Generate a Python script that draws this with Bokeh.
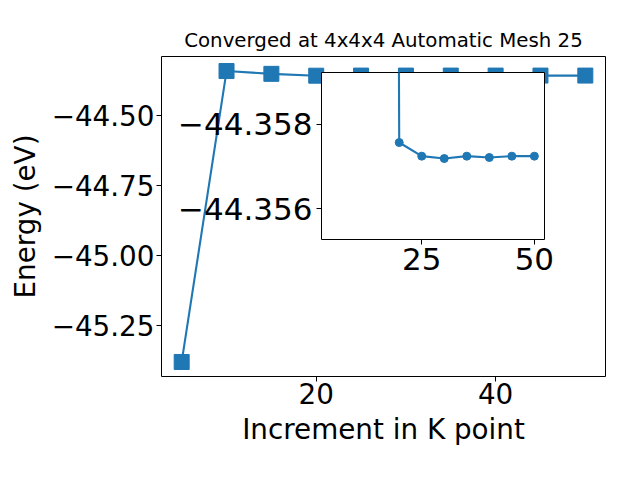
from bokeh.plotting import figure
from bokeh.models import Range1d, FixedTicker, CustomJSTickFormatter, ColumnDataSource
from bokeh.embed import file_html
from bokeh.resources import INLINE

# ---------------- data ----------------
k_points = [5, 10, 15, 20, 25, 30, 35, 40, 45, 50]
energy = [-45.380, -44.341, -44.351, -44.3576, -44.3572, -44.3572,
          -44.3572, -44.3572, -44.3572, -44.3572]

# zoomed inset series (first point lies far outside the inset window)
inset_k = [15, 20, 25, 30, 35, 40, 45, 50]
inset_energy = [-44.500, -44.357571, -44.357246, -44.357190, -44.357246,
                -44.357214, -44.357246, -44.357246]

title_text = "Converged at 4x4x4 Automatic Mesh 25"
x_label = "Increment in K point"
y_label = "Energy (eV)"

main_xticks = [20, 40]
main_yticks = [-45.25, -45.00, -44.75, -44.50]
inset_xticks = [25, 50]
inset_yticks = [-44.358, -44.356]
inset_ylim = (-44.355262, -44.359238)   # inverted axis

# ---------------- styling ----------------
FONT = "DejaVu Sans"
BLUE = "#1f77b4"

def pad_range(vals, frac=0.05):
    lo, hi = min(vals), max(vals)
    d = (hi - lo) * frac
    return lo - d, hi + d

xr = pad_range(k_points)
yr = pad_range(energy)

p = figure(width=640, height=480,
           x_range=Range1d(*xr), y_range=Range1d(*yr),
           output_backend="svg", toolbar_location=None, title=title_text,
           min_border_left=161, min_border_right=35, min_border_top=56,
           min_border_bottom=104)
p.background_fill_color = "white"
p.border_fill_color = "white"
p.outline_line_color = "black"
p.outline_line_width = 1
p.grid.visible = False
p.title.align = "center"
p.title.text_font = FONT
p.title.text_font_size = "19.8px"
p.title.text_font_style = "normal"
p.title.text_color = "black"
p.title.standoff = 9

for ax in (p.xaxis[0], p.yaxis[0]):
    ax.axis_line_color = None
    ax.major_tick_in = 0
    ax.major_tick_out = 5
    ax.major_tick_line_width = 1
    ax.minor_tick_line_color = None
    ax.major_label_text_font = FONT
    ax.major_label_text_font_size = "27.8px"
    ax.major_label_text_color = "black"
    ax.axis_label_text_font = FONT
    ax.axis_label_text_font_size = "27.8px"
    ax.axis_label_text_font_style = "normal"
    ax.axis_label_text_color = "black"

p.xaxis.major_label_standoff = 1
p.yaxis.major_label_standoff = 2
p.xaxis.ticker = FixedTicker(ticks=main_xticks)
p.yaxis.ticker = FixedTicker(ticks=main_yticks)
p.yaxis.formatter = CustomJSTickFormatter(code="return tick.toFixed(2).replace('-', '\\u2212');")
p.xaxis.axis_label = x_label
p.yaxis.axis_label = y_label
p.xaxis.axis_label_standoff = 6
p.yaxis.axis_label_standoff = 7

src = ColumnDataSource(dict(k=k_points, e=energy))
p.line("k", "e", source=src, line_color=BLUE, line_width=2.1)
p.scatter("k", "e", source=src, marker="square", size=15,
          fill_color=BLUE, line_color=BLUE, line_width=1)

# ---------------- inset ----------------
ins = figure(width=160 + 223 + 10, height=10 + 167 + 50,
             x_range=Range1d(*xr), y_range=Range1d(*inset_ylim),
             output_backend="svg", toolbar_location=None,
             min_border_left=160, min_border_right=10, min_border_top=10,
             min_border_bottom=50)
ins.background_fill_color = "white"
ins.border_fill_alpha = 0
ins.outline_line_color = "black"
ins.outline_line_width = 1
ins.grid.visible = False
for ax in (ins.xaxis[0], ins.yaxis[0]):
    ax.axis_line_color = None
    ax.major_tick_in = 0
    ax.major_tick_out = 5
    ax.major_tick_line_width = 1
    ax.minor_tick_line_color = None
    ax.major_label_text_font = FONT
    ax.major_label_text_font_size = "31px"
    ax.major_label_text_color = "black"
ins.xaxis.major_label_standoff = 3
ins.yaxis.major_label_standoff = 4
ins.xaxis.ticker = FixedTicker(ticks=inset_xticks)
ins.yaxis.ticker = FixedTicker(ticks=inset_yticks)
ins.yaxis.formatter = CustomJSTickFormatter(code="return tick.toFixed(3).replace('-', '\\u2212');")

isrc = ColumnDataSource(dict(k=inset_k, e=inset_energy))
ins.line("k", "e", source=isrc, line_color=BLUE, line_width=2.1)
ins.scatter("k", "e", source=isrc, marker="circle", size=8,
            fill_color=BLUE, line_color=BLUE, line_width=1)

# inset is a separate root, absolutely positioned over the main figure
ins.styles = {"position": "absolute", "left": "161px", "top": "62px"}

open("out.html", "w").write(file_html([p, ins], INLINE))
